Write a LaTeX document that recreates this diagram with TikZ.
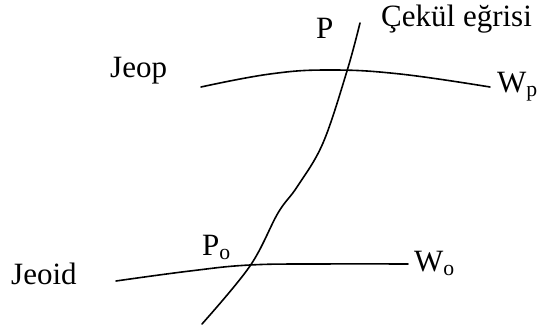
\documentclass[tikz,border=0pt]{standalone}
\usepackage{fontspec}
\setmainfont{Liberation Serif}
\begin{document}
\begin{tikzpicture}[x=1pt,y=-1pt,
  lbl/.style={anchor=base west,inner sep=0pt,font=\fontsize{31}{36}\selectfont},
  curve/.style={line width=1.6pt,line cap=round}]
\useasboundingbox (0,0) rectangle (547,326);
\clip (0,0) rectangle (547,326);
% plumb line
\coordinate (top) at (360,23);
\coordinate (bot) at (202,324);
\draw[curve] plot[smooth,tension=0.6] coordinates {(top) (347,71) (323,143) (297,187) (278,213) (250,266) (bot)};
% equipotential surfaces
\coordinate (jl) at (201,87);
\coordinate (jr) at (490,87);
\draw[curve] plot[smooth,tension=0.7] coordinates {(jl) (270,74) (330,70) (400,74) (jr)};
\coordinate (gl) at (116,281);
\coordinate (gr) at (408,264);
\draw[curve] plot[smooth,tension=0.7] coordinates {(gl) (190,271) (250,265) (320,264) (gr)};
% labels
\node[lbl] (P) at (316,39) {P};
\node[lbl] (cek) at (381,27) {Çekül eğrisi};
\node[lbl] (jeop) at (110,78) {Jeop};
\node[lbl] (wp) at (497,93) {W\textsubscript{p}};
\node[lbl] (jeoid) at (11,284) {Jeoid};
\node[lbl] (po) at (202,256) {P\textsubscript{o}};
\node[lbl] (wo) at (414,272) {W\textsubscript{o}};
\end{tikzpicture}
\end{document}
